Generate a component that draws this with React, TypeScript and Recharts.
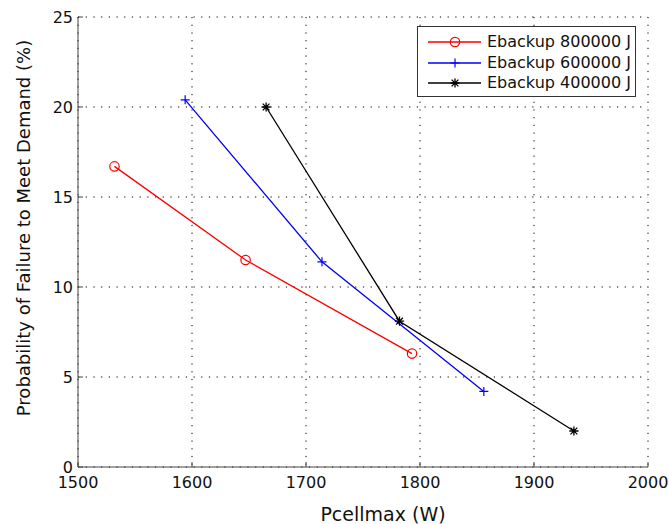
import React from 'react';
import { LineChart, Line, XAxis, YAxis, CartesianGrid, Legend } from 'recharts';

const FONT = '"DejaVu Sans", "Liberation Sans", Arial, sans-serif';

// Series data
const redX = [1532, 1647, 1793];
const redY = [16.7, 11.5, 6.3];
const blueX = [1594, 1714, 1856];
const blueY = [20.4, 11.4, 4.2];
const blackX = [1665, 1782, 1935];
const blackY = [20.0, 8.1, 2.0];

const seriesNames = ['Ebackup 800000 J', 'Ebackup 600000 J', 'Ebackup 400000 J'];
const seriesColors = ['#ff0000', '#0000ff', '#000000'];
const seriesMarkers = ['circle', 'plus', 'star'];

const xTicks = [1500, 1600, 1700, 1800, 1900, 2000];
const yTicks = [0, 5, 10, 15, 20, 25];

const toRows = (xs: number[], ys: number[]) => xs.map((x, i) => ({ x, y: ys[i] }));
const redData = toRows(redX, redY);
const blueData = toRows(blueX, blueY);
const blackData = toRows(blackX, blackY);

const Marker = ({ kind, cx, cy, color }: any) => {
  if (kind === 'circle') {
    return <circle cx={cx} cy={cy} r={4.7} fill="none" stroke={color} strokeWidth={1.2} />;
  }
  if (kind === 'plus') {
    return (
      <path
        d={`M${cx - 4.5},${cy}H${cx + 4.5}M${cx},${cy - 4.5}V${cy + 4.5}`}
        stroke={color}
        strokeWidth={1.2}
        fill="none"
      />
    );
  }
  const d = 3.4;
  return (
    <path
      d={`M${cx - 4.6},${cy}H${cx + 4.6}M${cx},${cy - 4.6}V${cy + 4.6}M${cx - d},${cy - d}L${cx + d},${cy + d}M${cx - d},${cy + d}L${cx + d},${cy - d}`}
      stroke={color}
      strokeWidth={1.3}
      fill="none"
    />
  );
};

const makeDot = (kind: string, color: string) => (props: any) => {
  const { cx, cy, index } = props;
  return (
    <g key={`${kind}-${index}`}>
      <Marker kind={kind} cx={cx} cy={cy} color={color} />
    </g>
  );
};

const XTickBottom = (props: any) => {
  const { x, y, payload } = props;
  return (
    <g>
      <line x1={x} y1={y} x2={x} y2={y - 5} stroke="#444" strokeWidth={1} />
      <text x={x} y={y + 21} textAnchor="middle" fontFamily={FONT} fontSize={16} fill="#111">
        {payload.value}
      </text>
    </g>
  );
};

const XTickTop = (props: any) => {
  const { x, y } = props;
  return <line x1={x} y1={y} x2={x} y2={y + 5} stroke="#444" strokeWidth={1} />;
};

const YTickLeft = (props: any) => {
  const { x, y, payload } = props;
  return (
    <g>
      <line x1={x} y1={y} x2={x + 5} y2={y} stroke="#444" strokeWidth={1} />
      <text x={x - 5} y={y + 5.8} textAnchor="end" fontFamily={FONT} fontSize={16} fill="#111">
        {payload.value}
      </text>
    </g>
  );
};

const YTickRight = (props: any) => {
  const { x, y } = props;
  return <line x1={x} y1={y} x2={x - 5} y2={y} stroke="#444" strokeWidth={1} />;
};

const LegendBox = () => {
  return (
    <div
      style={{
        width: 217,
        height: 69,
        border: '1px solid #333',
        background: '#fff',
        position: 'relative',
        fontFamily: FONT,
        fontSize: 16,
        color: '#111',
      }}
    >
      {seriesNames.map((name, i) => (
        <div
          key={i}
          style={{ position: 'absolute', left: 0, top: 5 + i * 20.5, height: 20, width: 217 }}
        >
          <svg width={60} height={20} style={{ position: 'absolute', left: 10, top: 0 }}>
            <line x1={0} y1={10} x2={53} y2={10} stroke={seriesColors[i]} strokeWidth={1.3} />
            <Marker kind={seriesMarkers[i]} cx={27} cy={10} color={seriesColors[i]} />
          </svg>
          <span
            style={{
              position: 'absolute',
              left: 69,
              top: 0,
              lineHeight: '20px',
              whiteSpace: 'nowrap',
            }}
          >
            {name}
          </span>
        </div>
      ))}
    </div>
  );
};

export default function App() {
  return (
    <div style={{ position: 'absolute', left: 0, top: 0, width: 669, height: 524, background: '#fff' }}>
      <LineChart
        width={669}
        height={524}
        margin={{ top: 17, right: 21, bottom: 0, left: 0 }}
        style={{ fontFamily: FONT }}
      >
        <CartesianGrid stroke="#000" strokeDasharray="1.2 6.5" strokeWidth={1} />
        <XAxis
          dataKey="x"
          type="number"
          domain={[1500, 2000]}
          ticks={xTicks}
          allowDataOverflow
          height={57}
          tickSize={0}
          tickMargin={0}
          tickLine={false}
          stroke="#444"
          tick={<XTickBottom />}
          interval={0}
          label={{
            content: () => (
              <text x={383} y={521} textAnchor="middle" fontFamily={FONT} fontSize={19} fill="#111">
                Pcellmax (W)
              </text>
            ),
          }}
        />
        <XAxis
          xAxisId="top"
          orientation="top"
          dataKey="x"
          type="number"
          domain={[1500, 2000]}
          ticks={xTicks}
          allowDataOverflow
          height={0}
          tickSize={0}
          tickMargin={0}
          tickLine={false}
          stroke="#444"
          tick={<XTickTop />}
          interval={0}
        />
        <YAxis
          type="number"
          domain={[0, 25]}
          ticks={yTicks}
          allowDataOverflow
          width={78}
          tickSize={0}
          tickMargin={0}
          tickLine={false}
          stroke="#444"
          tick={<YTickLeft />}
          interval={0}
          label={{
            content: () => (
              <text
                transform="translate(30,228) rotate(-90)"
                textAnchor="middle"
                fontFamily={FONT}
                fontSize={18}
                fill="#111"
              >
                Probability of Failure to Meet Demand (%)
              </text>
            ),
          }}
        />
        <YAxis
          yAxisId="right"
          orientation="right"
          type="number"
          domain={[0, 25]}
          ticks={yTicks}
          allowDataOverflow
          width={0}
          tickSize={0}
          tickMargin={0}
          tickLine={false}
          stroke="#444"
          tick={<YTickRight />}
          interval={0}
        />
        <Legend
          layout="vertical"
          align="center"
          verticalAlign="middle"
          wrapperStyle={{ position: 'absolute', left: 417, top: 26, width: 219, height: 71 }}
          content={<LegendBox />}
        />
        <Line
          data={redData}
          dataKey="y"
          name={seriesNames[0]}
          stroke={seriesColors[0]}
          strokeWidth={1.3}
          dot={makeDot(seriesMarkers[0], seriesColors[0])}
          activeDot={false}
          isAnimationActive={false}
        />
        <Line
          data={blueData}
          dataKey="y"
          name={seriesNames[1]}
          stroke={seriesColors[1]}
          strokeWidth={1.3}
          dot={makeDot(seriesMarkers[1], seriesColors[1])}
          activeDot={false}
          isAnimationActive={false}
        />
        <Line
          data={blackData}
          dataKey="y"
          name={seriesNames[2]}
          stroke={seriesColors[2]}
          strokeWidth={1.3}
          dot={makeDot(seriesMarkers[2], seriesColors[2])}
          activeDot={false}
          isAnimationActive={false}
        />
      </LineChart>
    </div>
  );
}
